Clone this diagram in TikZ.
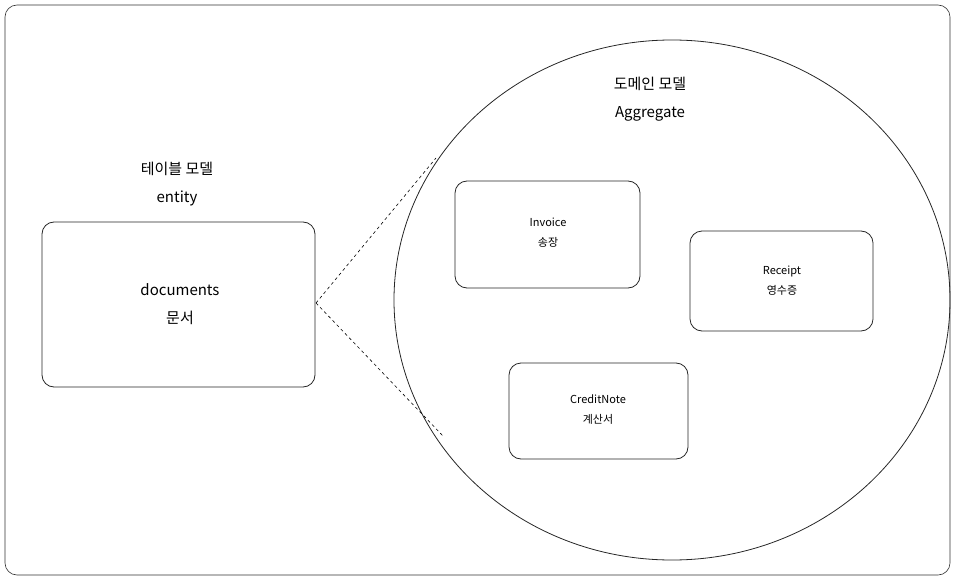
\documentclass[tikz,border=0pt]{standalone}
\usepackage{fontspec}
\usetikzlibrary{shapes.geometric}
\setmainfont{Noto Sans CJK KR}
\begin{document}
\begin{tikzpicture}[x=1pt,y=-1pt,
  box/.style={draw=black!85,rounded corners=12pt,line width=0.8pt,fill=white},
  lbl/.style={align=center,font=\fontsize{15}{28}\selectfont},
  sml/.style={align=center,font=\fontsize{11}{20}\selectfont}]
\useasboundingbox (0,0) rectangle (955,580);
\draw[rounded corners=12pt,line width=0.6pt,draw=black!80] (5,5) rectangle (950,575);
\node[draw=black!85,line width=0.8pt,ellipse,minimum width=556pt,minimum height=520pt,inner sep=0pt] (circ) at (672,300) {};
\coordinate (t1) at (436,158);
\coordinate (t2) at (443,436);
\draw[box] (42,222) rectangle (315,387);
\node[lbl] (doc) at (180,304) {documents\\문서};
\coordinate (tip) at (316,303);
\draw[dashed,line width=0.6pt] (tip) -- (t1);
\draw[dashed,line width=0.6pt] (tip) -- (t2);
\node[lbl] (ent) at (177,184) {테이블 모델\\entity};
\node[lbl] (agg) at (650,99) {도메인 모델\\Aggregate};
\draw[box] (455,181) rectangle (640,288);
\node[sml] (inv) at (548,233) {Invoice\\송장};
\draw[box] (690,231) rectangle (873,331);
\node[sml] (rec) at (782,281) {Receipt\\영수증};
\draw[box] (509,363) rectangle (688,459);
\node[sml] (cn) at (598,410) {CreditNote\\계산서};
\end{tikzpicture}
\end{document}
